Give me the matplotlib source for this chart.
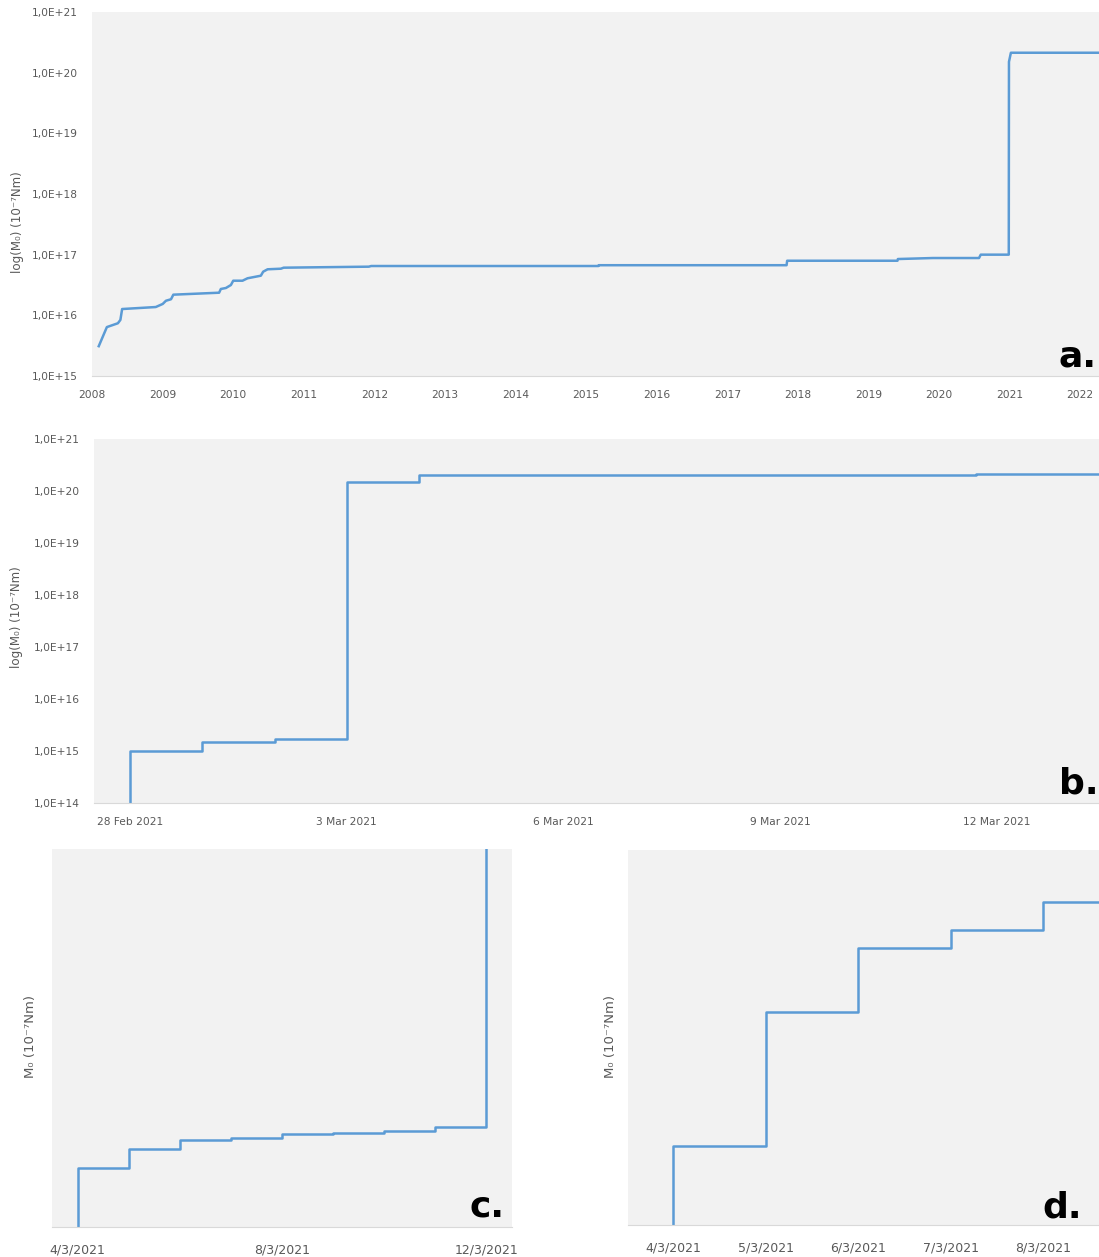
import numpy as np
import pandas as pd
import matplotlib
matplotlib.use("Agg")
import matplotlib.pyplot as plt
import matplotlib.dates as mdates
from matplotlib.ticker import FuncFormatter, NullLocator, FixedLocator

LINE = '#5B9BD5'
FACE = '#F2F2F2'
TXT = '#595959'

# cumulative seismic moment since 2008 (10^-7 Nm)
a_dates = ['2008-02-05', '2008-03-18', '2008-05-14', '2008-05-27', '2008-06-05',
           '2008-11-26', '2009-01-01', '2009-01-18', '2009-02-13', '2009-02-25',
           '2009-10-20', '2009-10-29', '2009-11-24', '2009-12-20', '2010-01-01',
           '2010-02-18', '2010-03-16', '2010-05-24', '2010-06-05', '2010-06-28',
           '2010-09-05', '2010-09-19', '2011-12-04', '2011-12-16', '2015-03-06',
           '2015-03-08', '2017-11-04', '2017-11-07', '2019-06-01', '2019-06-03',
           '2019-12-01', '2020-07-27', '2020-08-05', '2020-12-28', '2020-12-29',
           '2021-01-08', '2022-04-30']
a_m0 = [3.1e15, 6.4e15, 7.4e15, 8.4e15, 1.27e16,
        1.37e16, 1.54e16, 1.74e16, 1.84e16, 2.19e16,
        2.36e16, 2.72e16, 2.82e16, 3.16e16, 3.72e16,
        3.72e16, 4.08e16, 4.5e16, 5.24e16, 5.74e16,
        5.87e16, 6.1e16, 6.34e16, 6.5e16, 6.5e16,
        6.7e16, 6.7e16, 7.94e16, 7.94e16, 8.47e16,
        8.8e16, 8.8e16, 1.0e17, 1.0e17, 1.51e20,
        2.13e20, 2.13e20]

# late Feb - mid Mar 2021 sequence
b_times = ['2021-02-28 00:00', '2021-02-28 00:00', '2021-03-01 00:00', '2021-03-02 00:00',
           '2021-03-03 00:00', '2021-03-04 00:00', '2021-03-06 00:00', '2021-03-11 17:00',
           '2021-03-14 00:00']
b_m0 = [1e14, 1.0e15, 1.51e15, 1.72e15, 1.51e20, 2.0e20, 2.06e20, 2.12e20, 2.12e20]
b_ticks = ['2021-02-28', '2021-03-03', '2021-03-06', '2021-03-09', '2021-03-12']

# daily cumulative moment, linear scale
c_days = ['2021-03-04', '2021-03-04', '2021-03-05', '2021-03-06', '2021-03-07', '2021-03-08',
          '2021-03-09', '2021-03-10', '2021-03-11', '2021-03-12']
c_m0 = [0, 1.0e15, 1.33e15, 1.48e15, 1.52e15, 1.58e15, 1.61e15, 1.63e15, 1.70e15, 1.51e20]
c_ticks = ['2021-03-04', '2021-03-08', '2021-03-12']

d_days = ['2021-03-04', '2021-03-04', '2021-03-05', '2021-03-06', '2021-03-07', '2021-03-08',
          '2021-03-09']
d_m0 = [0, 2.1e19, 5.67e19, 7.38e19, 7.87e19, 8.61e19, 8.61e19]
d_ticks = ['2021-03-04', '2021-03-05', '2021-03-06', '2021-03-07', '2021-03-08']

plt.rcParams['font.family'] = 'DejaVu Sans'

fig = plt.figure(figsize=(10.99, 12.57), dpi=100)
ax_a = fig.add_axes([0.0837, 0.70088, 0.9163, 0.28958])
ax_b = fig.add_axes([0.0855, 0.36118, 0.9145, 0.28958])
ax_c = fig.add_axes([0.0473, 0.02387, 0.41856, 0.30072])
ax_d = fig.add_axes([0.5714, 0.02546, 0.42857, 0.29833])


def style(ax, size, pad):
    ax.set_facecolor(FACE)
    for s in ['top', 'right', 'left']:
        ax.spines[s].set_visible(False)
    ax.spines['bottom'].set_color('#D9D9D9')
    ax.tick_params(length=0, colors=TXT, labelsize=size, pad=pad)
    ax.yaxis.set_minor_locator(NullLocator())
    ax.xaxis.set_minor_locator(NullLocator())


sci = FuncFormatter(lambda v, p: f'1,0E+{int(round(np.log10(v)))}')
ylab_log = 'log(M\u2080) (10\u207b\u2077Nm)'
ylab_lin = 'M\u2080 (10\u207b\u2077Nm)'

# a. whole record
ax_a.plot(pd.to_datetime(a_dates), a_m0, color=LINE, lw=1.8)
ax_a.set_yscale('log')
ax_a.set_ylim(1e15, 1e21)
ax_a.yaxis.set_major_locator(FixedLocator([10.0**k for k in range(15, 22)]))
ax_a.yaxis.set_major_formatter(sci)
ax_a.set_xlim(pd.Timestamp('2008-01-01'), pd.Timestamp('2022-04-09'))
ax_a.xaxis.set_major_locator(mdates.YearLocator())
ax_a.xaxis.set_major_formatter(mdates.DateFormatter('%Y'))
style(ax_a, 7.7, 10)
ax_a.set_ylabel(ylab_log, fontsize=8.6, color=TXT)
ax_a.yaxis.set_label_coords(-0.0675, 0.422)
ax_a.text(0.998, 0.025, 'a.', transform=ax_a.transAxes, ha='right', va='baseline',
          fontsize=26, fontweight='bold')

# b. zoom on the 2021 sequence
ax_b.plot(pd.to_datetime(b_times), b_m0, color=LINE, lw=1.8, drawstyle='steps-post')
ax_b.set_yscale('log')
ax_b.set_ylim(1e14, 1e21)
ax_b.yaxis.set_major_locator(FixedLocator([10.0**k for k in range(14, 22)]))
ax_b.yaxis.set_major_formatter(sci)
ax_b.set_xlim(pd.Timestamp('2021-02-27 12:00'), pd.Timestamp('2021-03-13 10:00'))
ax_b.set_xticks(pd.to_datetime(b_ticks))
ax_b.xaxis.set_major_formatter(mdates.DateFormatter('%-d %b %Y'))
style(ax_b, 7.7, 10)
ax_b.set_ylabel(ylab_log, fontsize=8.6, color=TXT)
ax_b.yaxis.set_label_coords(-0.0706, 0.51)
ax_b.text(1.0, 0.025, 'b.', transform=ax_b.transAxes, ha='right', va='baseline',
          fontsize=26, fontweight='bold')

# c. and d. linear views
for ax, days, vals, ticks, top, lim, lab, tx, ty, lx in [
        (ax_c, c_days, c_m0, c_ticks, 6.45e15,
         ('2021-03-03 12:00', '2021-03-12 12:00'), 'c.', 0.983, 0.029, -0.0326),
        (ax_d, d_days, d_m0, d_ticks, 1.0e20,
         ('2021-03-03 12:15', '2021-03-08 14:24'), 'd.', 0.964, 0.021, -0.0234)]:
    ax.plot(pd.to_datetime(days), vals, color=LINE, lw=1.8, drawstyle='steps-post')
    ax.set_ylim(0, top)
    ax.set_yticks([])
    ax.set_xlim(pd.Timestamp(lim[0]), pd.Timestamp(lim[1]))
    ax.set_xticks(pd.to_datetime(ticks))
    ax.xaxis.set_major_formatter(mdates.DateFormatter('%-d/%-m/%Y'))
    style(ax, 9, 12)
    ax.set_ylabel(ylab_lin, fontsize=9.5, color=TXT)
    ax.yaxis.set_label_coords(lx, 0.503)
    ax.text(tx, ty, lab, transform=ax.transAxes, ha='right', va='baseline',
            fontsize=26, fontweight='bold')

fig.savefig('out.png', dpi=100, facecolor='white')
